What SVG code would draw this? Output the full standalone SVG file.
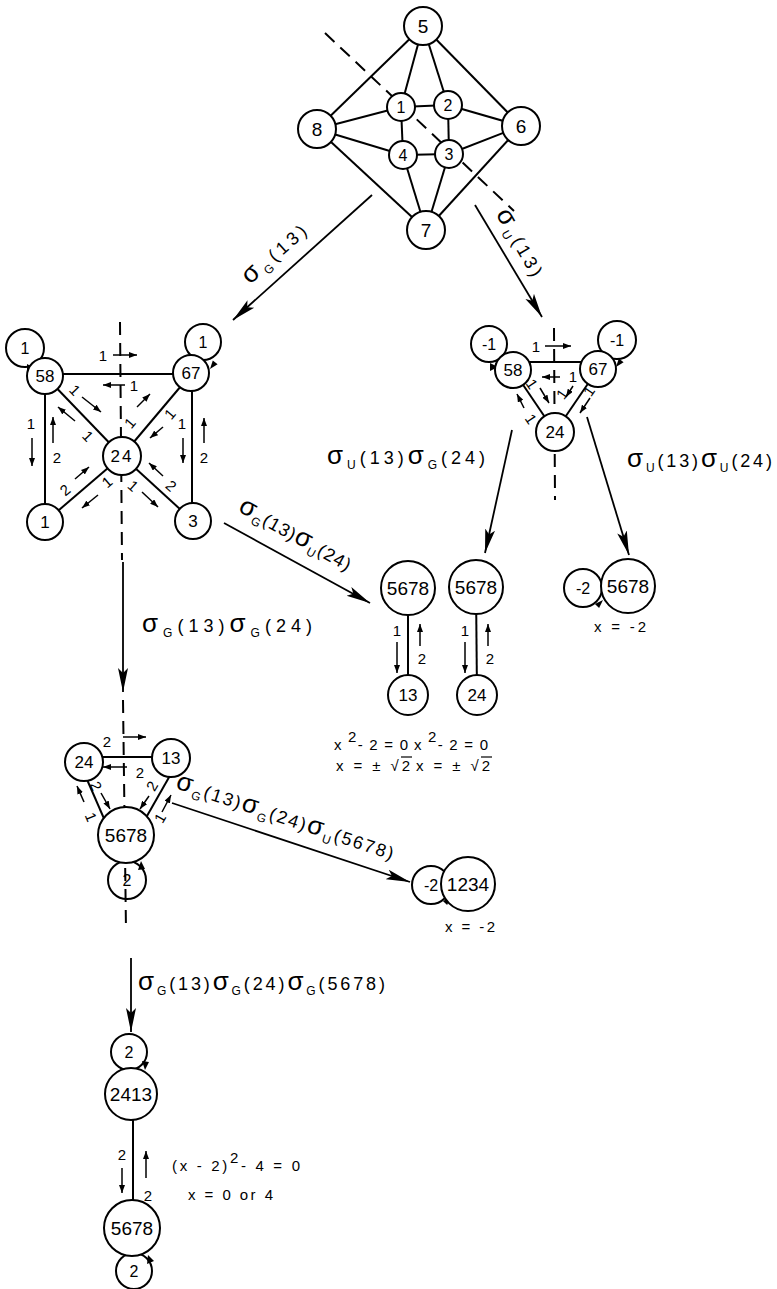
<svg xmlns="http://www.w3.org/2000/svg" width="777" height="1289" viewBox="0 0 777 1289">
<style>
.e{stroke:#000;stroke-width:2;fill:none}
.d{stroke:#000;stroke-width:2;stroke-dasharray:13 8;fill:none}
.a{stroke:#000;stroke-width:1.8;fill:none;marker-end:url(#big)}
.s{stroke:#000;stroke-width:1.5;fill:none;marker-end:url(#sm)}
.n circle{fill:#fff;stroke:#000;stroke-width:2}
.lp{fill:none;stroke:#000;stroke-width:2}
.ah{fill:#000}
.ol{stroke:#000;stroke-width:1.2}
text{font-family:"Liberation Sans",Arial,sans-serif;fill:#000}
.nt{text-anchor:middle;font-size:17px}
.big{font-size:19px}
.sm{font-size:16px}
.lab{font-size:18px}
.sg{font-size:26px}
.sub{font-size:12px}
.sl{font-size:15px;text-anchor:middle}
.eq{font-size:15px}
</style>
<defs>
<marker id="big" markerUnits="userSpaceOnUse" viewBox="0 0 24 12" markerWidth="24" markerHeight="12" refX="24" refY="6" orient="auto"><path d="M0,1 L24,6 L0,11 L5,6 z" fill="#000"/></marker>
<marker id="sm" markerUnits="userSpaceOnUse" viewBox="0 0 8 6" markerWidth="8" markerHeight="6" refX="8" refY="3" orient="auto"><path d="M0,0 L8,3 L0,6 z" fill="#000"/></marker>
</defs>

<g id="connectors">
<line class="e" x1="423" y1="26" x2="317" y2="129"/>
<line class="e" x1="423" y1="26" x2="401" y2="107"/>
<line class="e" x1="423" y1="26" x2="448" y2="105"/>
<line class="e" x1="423" y1="26" x2="521" y2="126"/>
<line class="e" x1="317" y1="129" x2="401" y2="107"/>
<line class="e" x1="317" y1="129" x2="403" y2="155"/>
<line class="e" x1="317" y1="129" x2="426" y2="230"/>
<line class="e" x1="521" y1="126" x2="448" y2="105"/>
<line class="e" x1="521" y1="126" x2="449" y2="154"/>
<line class="e" x1="521" y1="126" x2="426" y2="230"/>
<line class="e" x1="401" y1="107" x2="448" y2="105"/>
<line class="e" x1="401" y1="107" x2="403" y2="155"/>
<line class="e" x1="448" y1="105" x2="449" y2="154"/>
<line class="e" x1="403" y1="155" x2="449" y2="154"/>
<line class="e" x1="403" y1="155" x2="426" y2="230"/>
<line class="e" x1="449" y1="154" x2="426" y2="230"/>
<line class="d" x1="325" y1="33" x2="514" y2="211"/>

<line class="a" x1="372" y1="195" x2="233" y2="320"/>
<line class="a" x1="475" y1="205" x2="542" y2="317"/>
<line class="a" x1="224" y1="523" x2="370" y2="603"/>
<line class="a" x1="512" y1="430" x2="485" y2="553"/>
<line class="a" x1="587" y1="417" x2="629" y2="555"/>
<line class="a" x1="123" y1="562" x2="123" y2="692"/>
<line class="a" x1="172" y1="803" x2="410" y2="882"/>
<line class="a" x1="131" y1="958" x2="131" y2="1032"/>

<line class="e" x1="45" y1="374" x2="192" y2="374"/>
<line class="e" x1="45" y1="376" x2="122" y2="456"/>
<line class="e" x1="192" y1="373" x2="122" y2="456"/>
<line class="e" x1="122" y1="456" x2="45" y2="522"/>
<line class="e" x1="122" y1="456" x2="193" y2="521"/>
<line class="e" x1="45" y1="376" x2="45" y2="522"/>
<line class="e" x1="192" y1="373" x2="192" y2="521"/>
<line class="d" x1="120" y1="322" x2="122" y2="560"/>
<circle class="lp" cx="25" cy="348" r="19"/>
<circle class="lp" cx="203" cy="342" r="18"/>
<path class="ah" d="M36,369 L27,364 L27,373 z"/>
<path class="ah" d="M210,369 L217.6,364.2 L212.8,360.6 z"/>
<line class="s" x1="113" y1="355" x2="137" y2="355"/>
<line class="s" x1="125" y1="385" x2="103" y2="385"/>
<line class="s" x1="82" y1="397" x2="101" y2="412"/>
<line class="s" x1="75" y1="421" x2="58" y2="407"/>
<line class="s" x1="137" y1="407" x2="150" y2="394"/>
<line class="s" x1="163" y1="427" x2="150" y2="438"/>
<line class="s" x1="75" y1="479" x2="89" y2="467"/>
<line class="s" x1="98" y1="495" x2="82" y2="508"/>
<line class="s" x1="163" y1="476" x2="149" y2="463"/>
<line class="s" x1="142" y1="492" x2="158" y2="507"/>
<line class="s" x1="32" y1="438" x2="32" y2="466"/>
<line class="s" x1="53" y1="443" x2="53" y2="417"/>
<line class="s" x1="183" y1="438" x2="183" y2="463"/>
<line class="s" x1="204" y1="443" x2="204" y2="418"/>

<line class="e" x1="513" y1="362" x2="598" y2="362"/>
<line class="e" x1="513" y1="370" x2="555" y2="432"/>
<line class="e" x1="598" y1="369" x2="555" y2="432"/>
<line class="d" x1="554" y1="328" x2="555" y2="500"/>
<circle class="lp" cx="489" cy="344" r="18"/>
<circle class="lp" cx="617" cy="340" r="19"/>
<path class="ah" d="M498,367 L490,363 L490,371 z"/>
<path class="ah" d="M616,367 L623.6,362.2 L618.8,358.6 z"/>
<line class="s" x1="545" y1="346" x2="571" y2="346"/>
<line class="s" x1="560" y1="377" x2="542" y2="377"/>
<line class="s" x1="540" y1="388" x2="549" y2="403"/>
<line class="s" x1="524" y1="408" x2="517" y2="394"/>
<line class="s" x1="573" y1="386" x2="566" y2="397"/>
<line class="s" x1="590" y1="398" x2="580" y2="413"/>

<line class="e" x1="408" y1="588" x2="408" y2="695"/>
<line class="e" x1="476" y1="587" x2="477" y2="695"/>
<circle class="lp" cx="583" cy="588" r="19"/>
<path class="ah" d="M603,600 L599.1,608.1 L594.9,603.9 z"/>
<line class="s" x1="397" y1="642" x2="397" y2="673"/>
<line class="s" x1="420" y1="646" x2="420" y2="624"/>
<line class="s" x1="465" y1="642" x2="465" y2="673"/>
<line class="s" x1="488" y1="646" x2="488" y2="624"/>

<line class="e" x1="84" y1="757" x2="171" y2="757"/>
<line class="e" x1="75" y1="752" x2="109" y2="830"/>
<line class="e" x1="180" y1="758" x2="139" y2="830"/>
<line class="d" x1="123" y1="700" x2="126" y2="930"/>
<circle class="lp" cx="127" cy="880" r="19"/>
<path class="ah" d="M141,861 L138,870 L145,869 z"/>
<line class="s" x1="123" y1="737" x2="146" y2="737"/>
<line class="s" x1="127" y1="767" x2="103" y2="767"/>
<line class="s" x1="101" y1="793" x2="110" y2="809"/>
<line class="s" x1="84" y1="802" x2="77" y2="786"/>
<line class="s" x1="149" y1="796" x2="140" y2="809"/>
<line class="s" x1="162" y1="812" x2="171" y2="795"/>

<circle class="lp" cx="431" cy="885" r="19"/>
<path class="ah" d="M451,897 L447.1,905.1 L442.9,900.9 z"/>

<line class="e" x1="133" y1="1094" x2="133" y2="1228"/>
<circle class="lp" cx="129" cy="1052" r="18"/>
<path class="ah" d="M145,1070 L142,1061 L149,1062 z"/>
<circle class="lp" cx="134" cy="1271" r="18"/>
<path class="ah" d="M148,1255 L147,1264 L154,1261 z"/>
<line class="s" x1="122" y1="1168" x2="122" y2="1193"/>
<line class="s" x1="146" y1="1178" x2="146" y2="1151"/>
</g>

<g id="n5" class="n"><circle cx="423" cy="26" r="19"/><text class="nt big" x="423" y="33">5</text></g>
<g id="n8" class="n"><circle cx="317" cy="129" r="19"/><text class="nt big" x="317" y="136">8</text></g>
<g id="n6" class="n"><circle cx="521" cy="126" r="19"/><text class="nt big" x="521" y="133">6</text></g>
<g id="n7" class="n"><circle cx="426" cy="230" r="19"/><text class="nt big" x="426" y="237">7</text></g>
<g id="n1" class="n"><circle cx="401" cy="107" r="14"/><text class="nt sm" x="401" y="113">1</text></g>
<g id="n2" class="n"><circle cx="448" cy="105" r="14"/><text class="nt sm" x="448" y="111">2</text></g>
<g id="n4" class="n"><circle cx="403" cy="155" r="14"/><text class="nt sm" x="403" y="161">4</text></g>
<g id="n3" class="n"><circle cx="449" cy="154" r="14"/><text class="nt sm" x="449" y="160">3</text></g>

<g id="L58" class="n"><circle cx="45" cy="376" r="18"/><text class="nt" x="45" y="382">58</text></g>
<g id="L67" class="n"><circle cx="191" cy="373" r="18"/><text class="nt" x="191" y="379">67</text></g>
<g id="L24" class="n"><circle cx="122" cy="456" r="19"/><text class="nt" x="122" y="462" letter-spacing="2">24</text></g>
<g id="L1" class="n"><circle cx="45" cy="522" r="18"/><text class="nt" x="45" y="528">1</text></g>
<g id="L3" class="n"><circle cx="193" cy="521" r="18"/><text class="nt" x="193" y="527">3</text></g>
<g id="Lloops"><text class="nt sm" x="25" y="354">1</text><text class="nt sm" x="203" y="348">1</text></g>
<g id="Llabels">
<text class="sl" x="103" y="361">1</text>
<text class="sl" x="134" y="391">1</text>
<text class="sl" transform="translate(75,390) rotate(46)" dy="0.35em">1</text>
<text class="sl" transform="translate(88,436) rotate(46)" dy="0.35em">1</text>
<text class="sl" transform="translate(130,423) rotate(-50)" dy="0.35em">1</text>
<text class="sl" transform="translate(170,414) rotate(-50)" dy="0.35em">1</text>
<text class="sl" transform="translate(65,490) rotate(-40)" dy="0.35em">2</text>
<text class="sl" transform="translate(107,482) rotate(-40)" dy="0.35em">1</text>
<text class="sl" transform="translate(171,486) rotate(42)" dy="0.35em">2</text>
<text class="sl" transform="translate(133,486) rotate(42)" dy="0.35em">1</text>
<text class="sl" x="31" y="429">1</text>
<text class="sl" x="57" y="463">2</text>
<text class="sl" x="182" y="429">1</text>
<text class="sl" x="204" y="463">2</text>
</g>

<g id="R58" class="n"><circle cx="513" cy="370" r="18"/><text class="nt" x="513" y="376">58</text></g>
<g id="R67" class="n"><circle cx="598" cy="369" r="18"/><text class="nt" x="598" y="375">67</text></g>
<g id="R24" class="n"><circle cx="555" cy="432" r="19"/><text class="nt" x="555" y="438">24</text></g>
<g id="Rloops"><text class="nt sm" x="489" y="350">-1</text><text class="nt sm" x="617" y="346">-1</text></g>
<g id="Rlabels">
<text class="sl" x="536" y="352">1</text>
<text class="sl" x="573" y="382">1</text>
<text class="sl" transform="translate(532,384) rotate(56)" dy="0.35em">1</text>
<text class="sl" transform="translate(531,419) rotate(56)" dy="0.35em">1</text>
<text class="sl" transform="translate(562,394) rotate(-56)" dy="0.35em">1</text>
<text class="sl" transform="translate(589,391) rotate(-56)" dy="0.35em">1</text>
</g>

<g id="M1a" class="n"><circle cx="408" cy="588" r="27"/><text class="nt big" x="408" y="595">5678</text></g>
<g id="M1b" class="n"><circle cx="408" cy="695" r="20"/><text class="nt" x="408" y="701">13</text></g>
<g id="M2a" class="n"><circle cx="476" cy="587" r="27"/><text class="nt big" x="476" y="594">5678</text></g>
<g id="M2b" class="n"><circle cx="477" cy="695" r="20"/><text class="nt" x="477" y="701">24</text></g>
<g id="M3" class="n"><circle cx="628" cy="586" r="27"/><text class="nt big" x="628" y="593">5678</text></g>
<g id="M3loop"><text class="nt sm" x="583" y="594">-2</text></g>
<g id="Mlabels">
<text class="sl" x="397" y="636">1</text>
<text class="sl" x="422" y="664">2</text>
<text class="sl" x="465" y="636">1</text>
<text class="sl" x="490" y="664">2</text>
</g>

<g id="T24" class="n"><circle cx="84" cy="762" r="19"/><text class="nt" x="84" y="768">24</text></g>
<g id="T13" class="n"><circle cx="171" cy="758" r="19"/><text class="nt" x="171" y="764">13</text></g>
<g id="T5678" class="n"><circle cx="126" cy="835" r="28"/><text class="nt big" x="126" y="842">5678</text></g>
<g id="Tloop"><text class="nt sm" x="127" y="886">2</text></g>
<g id="Tlabels">
<text class="sl" x="107" y="747">2</text>
<text class="sl" x="140" y="778">2</text>
<text class="sl" transform="translate(96,786) rotate(67)" dy="0.35em">2</text>
<text class="sl" transform="translate(91,817) rotate(67)" dy="0.35em">1</text>
<text class="sl" transform="translate(152,786) rotate(-60)" dy="0.35em">2</text>
<text class="sl" transform="translate(160,818) rotate(-60)" dy="0.35em">1</text>
</g>

<g id="N1234" class="n"><circle cx="468" cy="884" r="27"/><text class="nt big" x="468" y="891">1234</text></g>
<g id="N1234loop"><text class="nt sm" x="431" y="891">-2</text></g>

<g id="B2413" class="n"><circle cx="131" cy="1094" r="26"/><text class="nt big" x="131" y="1101">2413</text></g>
<g id="B5678" class="n"><circle cx="132" cy="1228" r="28"/><text class="nt big" x="132" y="1235">5678</text></g>
<g id="Bloops"><text class="nt sm" x="129" y="1058">2</text><text class="nt sm" x="134" y="1277">2</text></g>
<g id="Blabels">
<text class="sl" x="122" y="1160">2</text>
<text class="sl" x="148" y="1201">2</text>
</g>

<g id="labels">
<text class="lab" text-anchor="middle" textLength="78" transform="translate(279,259) rotate(-42)"><tspan class="sg">σ</tspan><tspan class="sub" dy="5">G</tspan><tspan dy="-5">(13)</tspan></text>
<text class="lab" text-anchor="middle" textLength="74" transform="translate(514,246) rotate(60)"><tspan class="sg">σ</tspan><tspan class="sub" dy="5">U</tspan><tspan dy="-5">(13)</tspan></text>
<text class="lab" text-anchor="middle" textLength="125" transform="translate(292,541) rotate(29)"><tspan class="sg">σ</tspan><tspan class="sub" dy="5">G</tspan><tspan dy="-5">(13)</tspan><tspan class="sg">σ</tspan><tspan class="sub" dy="5">U</tspan><tspan dy="-5">(24)</tspan></text>
<text class="lab" x="142" y="632" textLength="170"><tspan class="sg">σ</tspan><tspan class="sub" dy="5">G</tspan><tspan dy="-5">(13)</tspan><tspan class="sg">σ</tspan><tspan class="sub" dy="5">G</tspan><tspan dy="-5">(24)</tspan></text>
<text class="lab" x="327" y="464" textLength="158"><tspan class="sg">σ</tspan><tspan class="sub" dy="5">U</tspan><tspan dy="-5">(13)</tspan><tspan class="sg">σ</tspan><tspan class="sub" dy="5">G</tspan><tspan dy="-5">(24)</tspan></text>
<text class="lab" x="627" y="467" textLength="145"><tspan class="sg">σ</tspan><tspan class="sub" dy="5">U</tspan><tspan dy="-5">(13)</tspan><tspan class="sg">σ</tspan><tspan class="sub" dy="5">U</tspan><tspan dy="-5">(24)</tspan></text>
<text class="lab" text-anchor="middle" textLength="228" transform="translate(283,824) rotate(18.4)"><tspan class="sg">σ</tspan><tspan class="sub" dy="5">G</tspan><tspan dy="-5">(13)</tspan><tspan class="sg">σ</tspan><tspan class="sub" dy="5">G</tspan><tspan dy="-5">(24)</tspan><tspan class="sg">σ</tspan><tspan class="sub" dy="5">U</tspan><tspan dy="-5">(5678)</tspan></text>
<text class="lab" x="138" y="990" textLength="247"><tspan class="sg">σ</tspan><tspan class="sub" dy="5">G</tspan><tspan dy="-5">(13)</tspan><tspan class="sg">σ</tspan><tspan class="sub" dy="5">G</tspan><tspan dy="-5">(24)</tspan><tspan class="sg">σ</tspan><tspan class="sub" dy="5">G</tspan><tspan dy="-5">(5678)</tspan></text>
</g>

<g id="equations">
<text class="eq" x="334" y="750" textLength="74">x <tspan dy="-8">2</tspan><tspan dy="8">- 2 = 0</tspan></text>
<text class="eq" x="336" y="771" textLength="74">x = ± √2</text>
<line class="ol" x1="401" y1="757" x2="412" y2="757"/>
<text class="eq" x="414" y="750" textLength="74">x <tspan dy="-8">2</tspan><tspan dy="8">- 2 = 0</tspan></text>
<text class="eq" x="416" y="771" textLength="74">x = ± √2</text>
<line class="ol" x1="481" y1="757" x2="492" y2="757"/>
<text class="eq" x="594" y="632" textLength="52">x = -2</text>
<text class="eq" x="445" y="932" textLength="50">x = -2</text>
<text class="eq" x="172" y="1171" textLength="128">(x - 2)<tspan dy="-8">2</tspan><tspan dy="8">- 4 = 0</tspan></text>
<text class="eq" x="188" y="1200" textLength="85">x = 0 or 4</text>
</g>
</svg>
